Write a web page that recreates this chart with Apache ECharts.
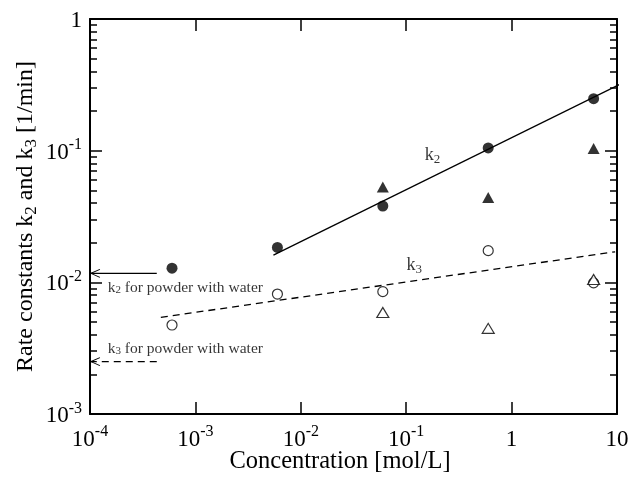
<!DOCTYPE html>
<html>
<head>
<meta charset="utf-8">
<script src="https://cdn.jsdelivr.net/npm/echarts@6/dist/echarts.min.js"></script>
<style>
  html, body { margin: 0; padding: 0; background: #fff; }
  #chart { width: 629px; height: 477px; }
</style>
</head>
<body>
<div id="chart"></div>
<script>
// concentration [mol/L] of the measured samples
const conc = [6e-4, 6e-3, 6e-2, 0.6, 6]
const concTri = [6e-2, 0.6, 6]
// rate constants [1/min]
const k2Circle = [0.0128, 0.0184, 0.038, 0.105, 0.248]
const k2Tri = [0.053, 0.044, 0.104]
const k3Circle = [0.00474, 0.00815, 0.0085, 0.0174, 0.0099]
const k3Tri = [0.0059, 0.00447, 0.0105]
// fitted lines (end points)
const k2FitX = [0.0055, 10.6]
const k2FitY = [0.0161, 0.318]
const k3FitX = [4.7e-4, 9.6]
const k3FitY = [0.00542, 0.01706]
// powder with water reference values
const k2Powder = 0.0117
const k3Powder = 0.0025
const arrowX = [4.3e-4, 1.02e-4]
// axis ticks
const xMajor = [1e-4, 1e-3, 1e-2, 1e-1, 1, 10]
const yMajor = [1e-3, 1e-2, 1e-1, 1]
const minorMult = [2, 3, 4, 5, 6, 7, 8, 9]

const yMinor = []
yMajor.slice(0, -1).forEach(d => minorMult.forEach(m => yMinor.push(m * d)))

const FONT = 'Liberation Serif'
const chart = echarts.init(document.getElementById('chart'))

const powRich = {
  b: { fontSize: 23, fontFamily: FONT, color: '#000', verticalAlign: 'top', padding: [4, 0, 0, 0] },
  s: { fontSize: 16, fontFamily: FONT, color: '#000', verticalAlign: 'top' }
}
function fmtPow (v) {
  const e = Math.round(Math.log10(v))
  if (e >= 0) return '{b|' + Math.pow(10, e) + '}'
  return '{b|10}{s|' + e + '}'
}
function subRich (size, subSize, drop) {
  return {
    m: { fontSize: size, fontFamily: FONT, color: '#000', verticalAlign: 'top' },
    u: { fontSize: subSize, fontFamily: FONT, color: '#000', verticalAlign: 'top', padding: [drop, 0, 0, 0] }
  }
}

const line = { color: '#000', width: 2 }

function yAxisDef (pos, ticks, len, labels) {
  return {
    type: 'log',
    logBase: 10,
    min: 1e-3,
    max: 1,
    position: pos,
    axisLine: { show: labels !== null, onZero: false, lineStyle: line },
    axisTick: { show: true, inside: true, length: len, customValues: ticks, lineStyle: { color: '#000', width: 1.5 } },
    axisLabel: labels ? { show: true, customValues: yMajor, formatter: fmtPow, rich: powRich, margin: 8 } : { show: false },
    splitLine: { show: false }
  }
}

const yAxes = [
  yAxisDef('left', yMajor, 12, true),
  yAxisDef('left', yMinor, 7, null),
  yAxisDef('right', yMajor, 12, false),
  yAxisDef('right', yMinor, 7, null)
]
yAxes[0].name = '{m|Rate constants k}{u|2}{m| and k}{u|3}{m| [1/min]}'
yAxes[0].nameLocation = 'middle'
yAxes[0].nameRotate = 90
yAxes[0].nameGap = 50
yAxes[0].nameMoveOverlap = false
yAxes[0].nameTextStyle = { rich: subRich(24, 17, 9) }

function pair (xs, ys) {
  return xs.map((x, i) => [x, ys[i]])
}

function note (x, y, text, size, subSize, drop, pos) {
  return {
    type: 'scatter',
    symbolSize: 0,
    silent: true,
    data: [[x, y]],
    label: {
      show: true,
      position: pos,
      distance: 0,
      formatter: text,
      rich: subRich(size, subSize, drop)
    }
  }
}

const chevron = 'path://M10,0L0,5L10,10'

function arrowSeries (y, dashed) {
  return {
    type: 'line',
    silent: true,
    symbol: 'none',
    showSymbol: true,
    data: [
      [arrowX[0], y],
      { value: [arrowX[1], y], symbol: chevron, symbolSize: [9, 8], symbolOffset: ['50%', 0] }
    ],
    itemStyle: { color: 'rgba(0,0,0,0)', borderColor: '#000', borderWidth: 1 },
    lineStyle: { color: '#000', width: 1.2, type: dashed ? [7, 5] : 'solid' }
  }
}

const option = {
  animation: false,
  backgroundColor: '#fff',
  grid: { left: 90, right: 12, top: 19, bottom: 63, outerBoundsMode: 'none', containLabel: false },
  xAxis: [
    {
      type: 'log',
      logBase: 10,
      min: 1e-4,
      max: 10,
      position: 'bottom',
      axisLine: { show: true, onZero: false, lineStyle: line },
      axisTick: { show: true, inside: true, length: 12, customValues: xMajor, lineStyle: { color: '#000', width: 1.5 } },
      axisLabel: { show: true, customValues: xMajor, formatter: fmtPow, rich: powRich, margin: 10 },
      splitLine: { show: false },
      name: 'Concentration [mol/L]',
      nameLocation: 'middle',
      nameGap: 35,
      nameMoveOverlap: false,
      nameTextStyle: { fontFamily: FONT, fontSize: 24.5, color: '#000', padding: [0, 27, 0, 0] }
    },
    {
      type: 'log',
      logBase: 10,
      min: 1e-4,
      max: 10,
      position: 'top',
      axisLine: { show: true, onZero: false, lineStyle: line },
      axisTick: { show: true, inside: true, length: 12, customValues: xMajor, lineStyle: { color: '#000', width: 1.5 } },
      axisLabel: { show: false },
      splitLine: { show: false }
    }
  ],
  yAxis: yAxes,
  series: [
    {
      type: 'line',
      silent: true,
      clip: false,
      showSymbol: false,
      data: pair(k2FitX, k2FitY),
      lineStyle: { color: '#000', width: 1.3 }
    },
    {
      type: 'line',
      silent: true,
      clip: false,
      showSymbol: false,
      data: pair(k3FitX, k3FitY),
      lineStyle: { color: '#000', width: 1.3, type: [7, 5] }
    },
    {
      type: 'scatter',
      silent: true,
      symbol: 'circle',
      symbolSize: 11,
      itemStyle: { color: '#000' },
      data: pair(conc, k2Circle)
    },
    {
      type: 'scatter',
      silent: true,
      symbol: 'triangle',
      symbolSize: [12, 11],
      itemStyle: { color: '#000' },
      data: pair(concTri, k2Tri)
    },
    {
      type: 'scatter',
      silent: true,
      symbol: 'circle',
      symbolSize: 10,
      itemStyle: { color: '#fff', borderColor: '#000', borderWidth: 1.2 },
      data: pair(conc, k3Circle)
    },
    {
      type: 'scatter',
      silent: true,
      symbol: 'triangle',
      symbolSize: [12, 10],
      itemStyle: { color: '#fff', borderColor: '#000', borderWidth: 1.2 },
      data: pair(concTri, k3Tri)
    },
    arrowSeries(k2Powder, false),
    arrowSeries(k3Powder, true),
    note(0.178, 0.0912, '{m|k}{u|2}', 18, 13, 7, 'inside'),
    note(0.119, 0.0133, '{m|k}{u|3}', 18, 13, 7, 'inside'),
    note(1.47e-4, 0.00906, '{m|k}{u|2}{m| for powder with water}', 15.5, 11, 5, 'right'),
    note(1.47e-4, 0.00312, '{m|k}{u|3}{m| for powder with water}', 15.5, 11, 5, 'right')
  ]
}

chart.setOption(option)
</script>
</body>
</html>
